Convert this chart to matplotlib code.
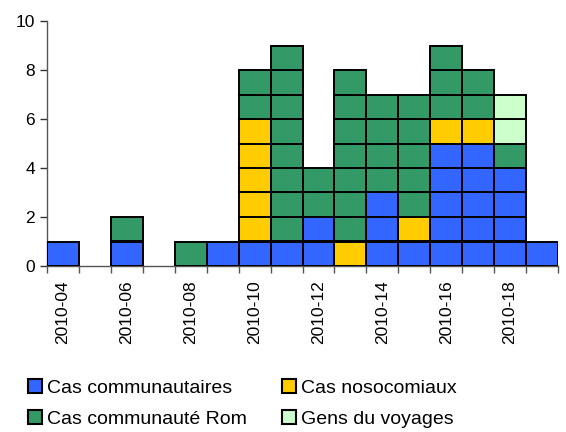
import matplotlib.pyplot as plt
from matplotlib.patches import Patch
import numpy as np

plt.rcParams['font.family'] = ['Liberation Sans', 'DejaVu Sans']

weeks = ['2010-04', '2010-05', '2010-06', '2010-07', '2010-08', '2010-09', '2010-10', '2010-11',
         '2010-12', '2010-13', '2010-14', '2010-15', '2010-16', '2010-17', '2010-18', '2010-19']
communautaires = [1, 0, 1, 0, 0, 1, 1, 1, 2, 0, 3, 1, 5, 5, 4, 1]
nosocomiaux = [0, 0, 0, 0, 0, 0, 5, 0, 0, 1, 0, 1, 1, 1, 0, 0]
rom = [0, 0, 1, 0, 1, 0, 2, 8, 2, 7, 4, 5, 3, 2, 1, 0]
voyage = [0, 0, 0, 0, 0, 0, 0, 0, 0, 0, 0, 0, 0, 0, 2, 0]

series = [
    ('Cas communautaires', communautaires, '#3366FF'),
    ('Cas nosocomiaux', nosocomiaux, '#FFCC00'),
    ('Cas communauté Rom', rom, '#339966'),
    ('Gens du voyages', voyage, '#CCFFCC'),
]

fig = plt.figure(figsize=(5.66, 4.32), dpi=100)
ax = fig.add_axes([47 / 566, 1 - 266 / 432, 511 / 566, 245 / 432])

x = np.arange(len(weeks))
bottom = np.zeros(len(weeks))
# one box per case, stacked
for name, vals, col in series:
    for i, v in enumerate(vals):
        for k in range(v):
            ax.bar(x[i], 1, bottom=bottom[i] + k, width=1.0, color=col,
                   edgecolor='black', linewidth=1.4, zorder=3)
    bottom += np.array(vals)

ax.set_xlim(-0.5, len(weeks) - 0.5)
ax.set_ylim(0, 10)
ax.set_yticks(range(0, 11, 2))
ax.tick_params(axis='y', labelsize=12.5, length=5, width=1, colors='#333333', labelcolor='black')

ax.set_xticks(x[::2])
ax.set_xticklabels(weeks[::2], rotation=90, fontsize=12.5)
ax.tick_params(axis='x', which='major', length=0, pad=10)
ax.set_xticks(np.arange(-0.5, len(weeks), 1.0), minor=True)
ax.tick_params(axis='x', which='minor', length=5, width=1, colors='#555555')

for s in ['top', 'right']:
    ax.spines[s].set_visible(False)
for s in ['left', 'bottom']:
    ax.spines[s].set_color('#555555')
    ax.spines[s].set_linewidth(1)

handles = [Patch(facecolor=series[i][2], edgecolor='black', linewidth=1.5, label=series[i][0])
           for i in [0, 2, 1, 3]]
fig.legend(handles=handles, ncol=2, loc='lower left', bbox_to_anchor=(0.035, -0.008),
           frameon=False, fontsize=14, handlelength=0.75, handleheight=0.75,
           handletextpad=0.25, columnspacing=1.8, labelspacing=0.68, borderaxespad=0)

fig.savefig('out.png', dpi=100)
